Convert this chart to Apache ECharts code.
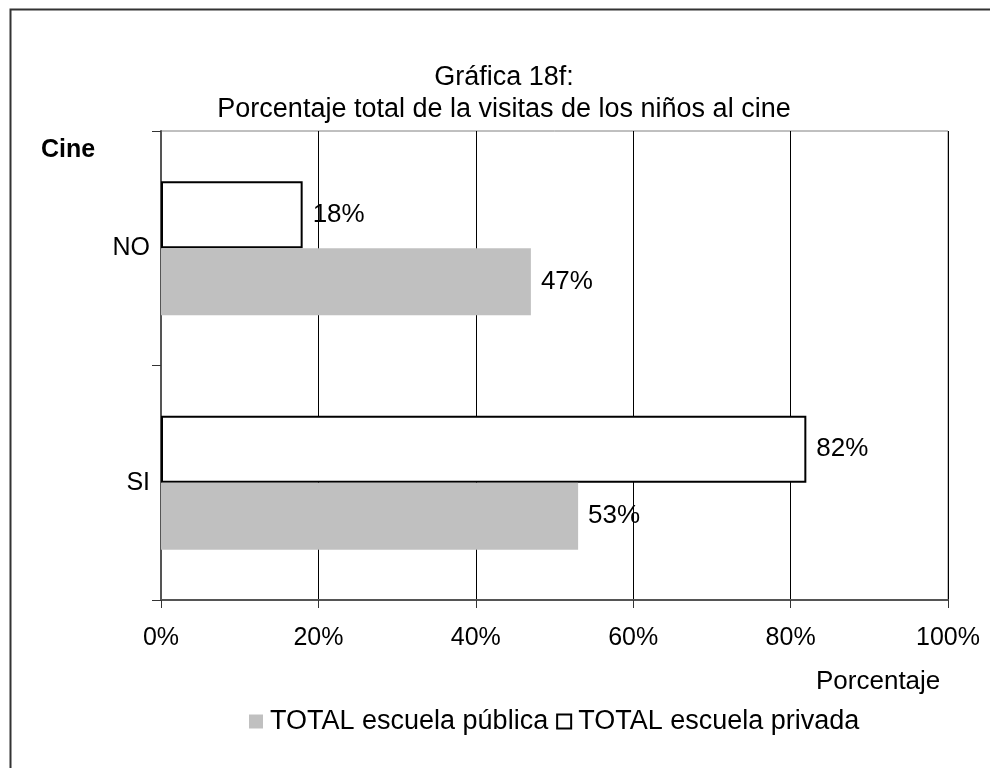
<!DOCTYPE html>
<html>
<head>
<meta charset="utf-8">
<script src="https://cdn.jsdelivr.net/npm/echarts@6/dist/echarts.min.js"></script>
<style>html,body{margin:0;padding:0;background:#fff}#c{width:990px;height:768px}</style>
</head>
<body>
<div id="c"></div>
<script>
const categories = ['SI', 'NO'];
const publica = [53, 47];
const privada = [82, 18];
const xTicks = [0, 20, 40, 60, 80, 100];
const seriesNames = ['TOTAL escuela pública', 'TOTAL escuela privada'];

const FONT = 'Liberation Sans, Arial, sans-serif';
const chart = echarts.init(document.getElementById('c'));
chart.setOption({
  backgroundColor: '#fff',
  animation: false,
  textStyle: { fontFamily: FONT, color: '#000' },
  title: [
    { text: 'Gráfica 18f:\nPorcentaje total de la visitas de los niños al cine', left: 499, top: 57, textAlign: 'center',
      textStyle: { fontFamily: FONT, fontSize: 27, fontWeight: 'normal', color: '#000', lineHeight: 32 } },
    { text: 'Cine', left: 36, top: 133, textStyle: { fontFamily: FONT, fontSize: 25, fontWeight: 'bold', color: '#000' } },
    { text: 'Porcentaje', left: 811, top: 664, textStyle: { fontFamily: FONT, fontSize: 26, fontWeight: 'normal', color: '#000' } }
  ],
  graphic: [
    { type: 'rect', shape: { x: 10.5, y: 9.5, width: 1000, height: 1000 }, style: { fill: 'none', stroke: '#333', lineWidth: 2 }, silent: true }
  ],
  legend: {
    left: 244, top: 703,
    itemWidth: 14, itemHeight: 14, itemGap: 8,
    icon: 'rect',
    textStyle: { fontFamily: FONT, fontSize: 27, color: '#000', padding: [0, 0, 0, 2] },
    data: [
      { name: seriesNames[0], itemStyle: { color: '#c0c0c0', borderWidth: 0 } },
      { name: seriesNames[1], itemStyle: { color: '#fff', borderColor: '#000', borderWidth: 2 } }
    ]
  },
  grid: { left: 161, right: 42, top: 131, bottom: 168, show: true, borderColor: '#808080', borderWidth: 1, containLabel: false },
  xAxis: {
    type: 'value', min: 0, max: 100, interval: 20,
    axisLine: { show: true, lineStyle: { color: '#555', width: 2 } },
    axisTick: { show: true, inside: false, length: 8, lineStyle: { color: '#333' } },
    splitLine: { show: true, lineStyle: { color: '#000', width: 1 } },
    axisLabel: { formatter: v => xTicks.includes(v) ? v + '%' : '', fontSize: 25, color: '#000', fontFamily: FONT, margin: 26 }
  },
  yAxis: {
    type: 'category', data: categories,
    axisLine: { show: true, lineStyle: { color: '#555', width: 2 } },
    axisTick: { show: true, length: 9, lineStyle: { color: '#333' } },
    axisLabel: { fontSize: 25, color: '#000', fontFamily: FONT, margin: 11 }
  },
  series: [
    { name: seriesNames[1], type: 'bar', data: privada, barWidth: 67, barGap: '0%',
      itemStyle: { color: '#fff', borderColor: '#000', borderWidth: 2 },
      label: { show: true, position: 'right', distance: 10, formatter: p => p.value + '%', fontSize: 26, color: '#000', fontFamily: FONT } },
    { name: seriesNames[0], type: 'bar', data: publica, barWidth: 67, barGap: '0%',
      itemStyle: { color: '#c0c0c0' },
      label: { show: true, position: 'right', distance: 10, formatter: p => p.value + '%', fontSize: 26, color: '#000', fontFamily: FONT } }
  ]
});
</script>
</body>
</html>
